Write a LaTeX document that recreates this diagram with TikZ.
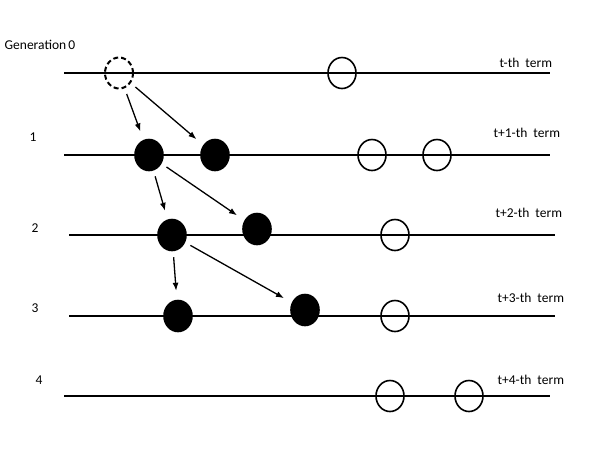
\documentclass[tikz,border=0pt]{standalone}
\usepackage{fontspec}
\setmainfont{Carlito}
\usetikzlibrary{shapes.geometric, arrows.meta}
\begin{document}
\begin{tikzpicture}[x=1pt, y=-1pt, every node/.style={font=\fontsize{13.5}{15}\selectfont},
  ball/.style={ellipse, draw, line width=1.6pt, minimum width=28pt, minimum height=31pt, inner sep=0pt},
  alive/.style={ball, fill=black},
  lost/.style={ball, dash pattern=on 5pt off 3pt, line width=2pt},
  birth/.style={-{Latex[length=8pt,width=6pt]}, line width=1.3pt, shorten <=6pt, shorten >=9pt},
  gen/.style={line width=1.8pt}]
  \useasboundingbox (0,0) rectangle (599,450);
  % generation lines
  \draw[gen] (64,73) -- (550,73);
  \draw[gen] (64,155) -- (550,155);
  \draw[gen] (69,235) -- (555,235);
  \draw[gen] (69,316) -- (555,316);
  \draw[gen] (64,396) -- (550,396);
  % labels on the left
  \node (g0) at (40,45) {Generation\,0};
  \node (g1) at (33,137) {1};
  \node (g2) at (35,228) {2};
  \node (g3) at (35,308) {3};
  \node (g4) at (39,380) {4};
  % labels on the right
  \node[anchor=west] (t0) at (496,63) {t-th\ \ term};
  \node[anchor=west] (t1) at (490,133) {t+1-th\ \ term};
  \node[anchor=west] (t2) at (492,213) {t+2-th\ \ term};
  \node[anchor=west] (t3) at (494,298) {t+3-th\ \ term};
  \node[anchor=west] (t4) at (494,380) {t+4-th\ \ term};
  % generation 0
  \node[lost] (a0) at (119,73) {};
  \node[ball] (o0) at (342,73) {};
  % generation 1
  \node[alive] (a1) at (149,155) {};
  \node[alive] (b1) at (215,155) {};
  \node[ball] (o1) at (372,155) {};
  \node[ball] (p1) at (437,155) {};
  % generation 2
  \node[alive] (a2) at (172,235) {};
  \node[alive] (b2) at (257,229) {};
  \node[ball] (o2) at (395,235) {};
  % generation 3
  \node[alive] (a3) at (178,316) {};
  \node[alive] (b3) at (305,310) {};
  \node[ball] (o3) at (395,316) {};
  % generation 4
  \node[ball] (o4) at (390,396) {};
  \node[ball] (p4) at (469,396) {};
  % offspring
  \draw[birth] (a0) -- (a1);
  \draw[birth] (a0) -- (b1);
  \draw[birth] (a1) -- (a2);
  \draw[birth] (a1) -- (b2);
  \draw[birth] (a2) -- (a3);
  \draw[birth] (a2) -- (b3);
\end{tikzpicture}
\end{document}
